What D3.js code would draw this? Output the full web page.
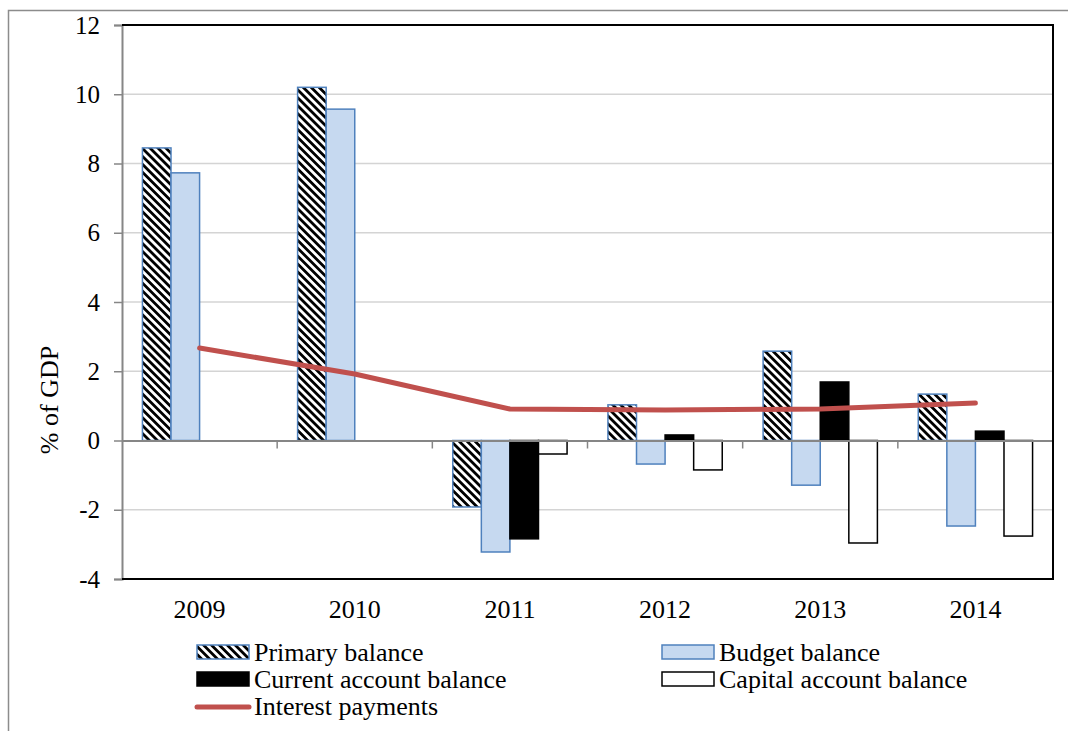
<!DOCTYPE html>
<html><head><meta charset="utf-8">
<script src="https://cdn.jsdelivr.net/npm/d3@7"></script>
<style>html,body{margin:0;padding:0;background:#fff;}svg{display:block;}</style>
</head><body>
<svg id="chart" width="1068" height="731"></svg>
<script>
const years = ["2009","2010","2011","2012","2013","2014"];
const primaryBalance = [8.45, 10.2, -1.92, 1.03, 2.58, 1.34];
const budgetBalance = [7.73, 9.57, -3.22, -0.68, -1.29, -2.47];
const currentAccount = [null, null, -2.84, 0.16, 1.69, 0.27];
const capitalAccount = [null, null, -0.39, -0.85, -2.96, -2.76];
const interestPayments = [2.67, 1.92, 0.91, 0.88, 0.91, 1.08];
const yTicks = [-4, -2, 0, 2, 4, 6, 8, 10, 12];
const seriesNames = ["Primary balance","Budget balance","Current account balance","Capital account balance","Interest payments"];

const svg = d3.select("#chart");
const L = 122, R = 1053, T = 25, B = 579;
const font = "'Liberation Serif','Times New Roman',serif";

// outer frame
svg.append("rect").attr("x",8.5).attr("y",10.5).attr("width",1100).attr("height",800)
  .attr("fill","none").attr("stroke","#8c8c8c").attr("stroke-width",1.5);

const defs = svg.append("defs");
const pat = defs.append("pattern").attr("id","diag").attr("patternUnits","userSpaceOnUse")
  .attr("width",5.6).attr("height",5.6).attr("patternTransform","rotate(-45)");
pat.append("rect").attr("width",5.6).attr("height",5.6).attr("fill","#fff");
pat.append("rect").attr("width",2.8).attr("height",5.6).attr("fill","#000");

const x = d3.scaleBand().domain(years).range([L,R]).paddingInner(0).paddingOuter(0);
const inner = d3.scaleBand().domain([0,1,2,3]).range([0, x.bandwidth()]).paddingOuter(0.715).paddingInner(0);
const y = d3.scaleLinear().domain([-4,12]).range([B,T]);

// gridlines
svg.append("g").selectAll("line").data(yTicks.filter(d=>d!==0 && d!==12 && d!==-4)).join("line")
  .attr("x1",L).attr("x2",R).attr("y1",d=>y(d)).attr("y2",d=>y(d))
  .attr("stroke","#d4d4d4").attr("stroke-width",1.5);

// y axis
const yAxis = d3.axisLeft(y).tickValues(yTicks).tickSize(8).tickPadding(14).tickFormat(d=>String(d));
const ga = svg.append("g").attr("transform",`translate(${L},0)`).call(yAxis);
ga.attr("font-family",font);
ga.select(".domain").attr("stroke","#868686").attr("stroke-width",2);
ga.selectAll(".tick line").attr("stroke","#868686").attr("stroke-width",1.5);
ga.selectAll(".tick text").attr("font-family",font).attr("font-size",25).attr("fill","#000");

const series = [
  {vals: primaryBalance, fill:"url(#diag)", stroke:"#4f81bd"},
  {vals: budgetBalance, fill:"#c6d9f0", stroke:"#4f81bd"},
  {vals: currentAccount, fill:"#000", stroke:"#000"},
  {vals: capitalAccount, fill:"#fff", stroke:"#000"}
];

// bars
series.forEach((s,i)=>{
  svg.append("g").selectAll("rect").data(years.map((yr,j)=>({yr, v:s.vals[j]})).filter(d=>d.v!==null)).join("rect")
    .attr("x",d=>x(d.yr)+inner(i))
    .attr("width",inner.bandwidth())
    .attr("y",d=>y(Math.max(0,d.v)))
    .attr("height",d=>Math.abs(y(d.v)-y(0)))
    .attr("fill",s.fill).attr("stroke",s.stroke).attr("stroke-width",1.5);
});

// zero axis
const xAxis = d3.axisBottom(x).tickSize(0).tickFormat("");
const gx = svg.append("g").attr("transform",`translate(0,${y(0)})`).call(xAxis);
gx.select(".domain").attr("stroke","#868686").attr("stroke-width",2);
svg.append("g").selectAll("line").data(years.slice(1)).join("line")
  .attr("x1",d=>x(d)).attr("x2",d=>x(d)).attr("y1",y(0)).attr("y2",y(0)+8)
  .attr("stroke","#868686").attr("stroke-width",1.5);

// plot border (top, right, bottom)
svg.append("path").attr("d",`M${L},${T}H${R}V${B}H${L}`).attr("fill","none")
  .attr("stroke","#000").attr("stroke-width",2);

// category labels
svg.append("g").selectAll("text").data(years).join("text")
  .attr("x",d=>x(d)+x.bandwidth()/2).attr("y",618)
  .attr("text-anchor","middle").attr("font-family",font).attr("font-size",26).text(d=>d);

// interest line
const line = d3.line().x((d,i)=>x(years[i])+x.bandwidth()/2).y(d=>y(d));
svg.append("path").datum(interestPayments).attr("d",line).attr("fill","none")
  .attr("stroke","#c0504d").attr("stroke-width",5).attr("stroke-linecap","round").attr("stroke-linejoin","round");

// y title
svg.append("text").attr("transform","translate(58,400) rotate(-90)").attr("text-anchor","middle")
  .attr("font-family",font).attr("font-size",26).text("% of GDP");

// legend
const leg = [
  {x:197, y:645, type:"rect", fill:"url(#diag)", stroke:"#4f81bd", name:seriesNames[0]},
  {x:662, y:645, type:"rect", fill:"#c6d9f0", stroke:"#4f81bd", name:seriesNames[1]},
  {x:197, y:672, type:"rect", fill:"#000", stroke:"#000", name:seriesNames[2]},
  {x:662, y:672, type:"rect", fill:"#fff", stroke:"#000", name:seriesNames[3]},
  {x:197, y:699, type:"line", stroke:"#c0504d", name:seriesNames[4]}
];
const lg = svg.append("g");
leg.forEach(d=>{
  if(d.type==="rect"){
    lg.append("rect").attr("x",d.x).attr("y",d.y).attr("width",52).attr("height",14)
      .attr("fill",d.fill).attr("stroke",d.stroke).attr("stroke-width",1.5);
  } else {
    lg.append("line").attr("x1",d.x).attr("x2",d.x+52).attr("y1",d.y+8).attr("y2",d.y+8)
      .attr("stroke",d.stroke).attr("stroke-width",5).attr("stroke-linecap","round");
  }
  lg.append("text").attr("x",d.x+57).attr("y",d.y+16).attr("font-family",font).attr("font-size",26).text(d.name);
});
</script>
</body></html>
